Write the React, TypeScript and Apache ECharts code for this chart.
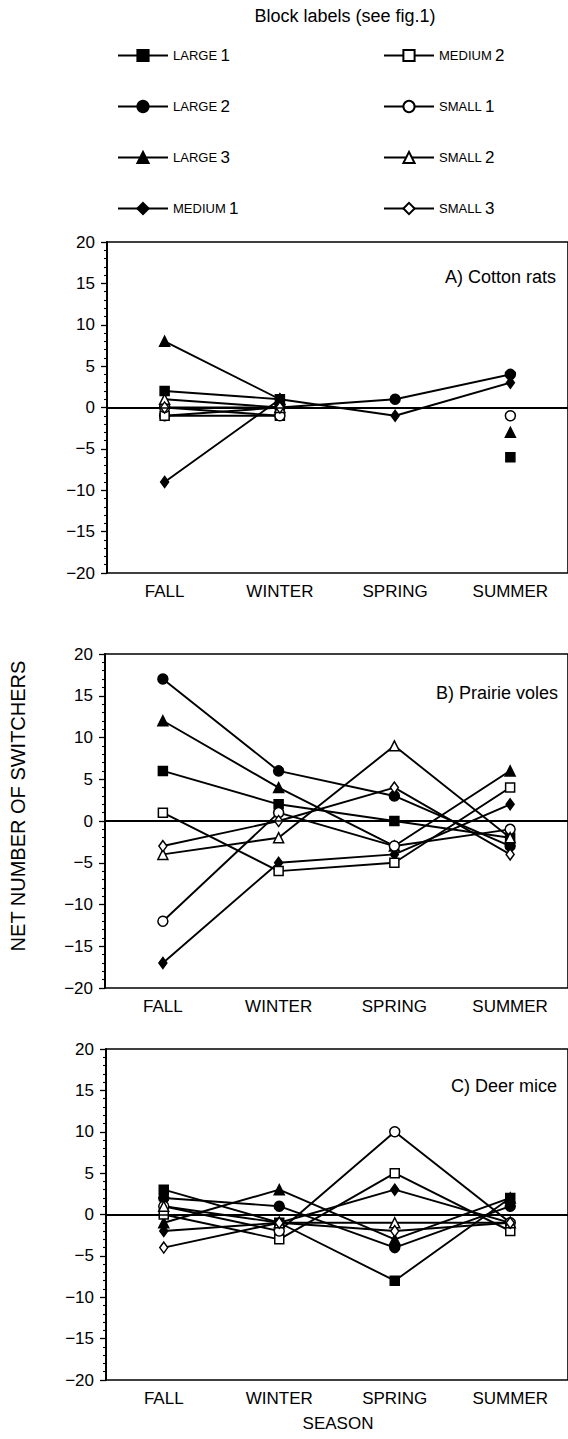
import React, { useEffect, useRef } from "react";
import * as echarts from "echarts";

const seasons = ["FALL", "WINTER", "SPRING", "SUMMER"];
const seriesNames = ["LARGE 1", "LARGE 2", "LARGE 3", "MEDIUM 1", "MEDIUM 2", "SMALL 1", "SMALL 2", "SMALL 3"];
const seriesSymbols = ["rect", "circle", "triangle", "diamond", "rect", "circle", "triangle", "diamond"];
const seriesFilled = [true, true, true, true, false, false, false, false];
const panelTitles = ["A) Cotton rats", "B) Prairie voles", "C) Deer mice"];

// rows follow seriesNames; columns follow seasons
const cottonRats: (number | null)[][] = [
  [2, 1, null, -6],
  [-1, 0, 1, 4],
  [8, 1, null, -3],
  [-9, 1, -1, 3],
  [-1, -1, null, null],
  [0, -1, null, -1],
  [1, 0, null, null],
  [0, 0, null, null],
];
const prairieVoles: (number | null)[][] = [
  [6, 2, 0, -2],
  [17, 6, 3, -3],
  [12, 4, -3, 6],
  [-17, -5, -4, 2],
  [1, -6, -5, 4],
  [-12, 1, -3, -1],
  [-4, -2, 9, -2],
  [-3, 0, 4, -4],
];
const deerMice: (number | null)[][] = [
  [3, -1, -8, 2],
  [2, 1, -4, 1],
  [-1, 3, -3, 2],
  [-2, -1, 3, -1],
  [0, -3, 5, -2],
  [1, -2, 10, -1],
  [1, -1, -1, -1],
  [-4, -1, -2, -1],
];
const panels = [cottonRats, prairieVoles, deerMice];

const FONT = "'Liberation Sans', Arial, Helvetica, sans-serif";

const grids = [
  { left: 107, top: 242, height: 331, right: -4 },
  { left: 105, top: 654, height: 334, right: -4 },
  { left: 106, top: 1049, height: 331, right: -4 },
];
const titlePos = [
  { x: 556, y: 277 },
  { x: 558, y: 693 },
  { x: 557, y: 1086 },
];

const symbolSize = (s: string) => (s === "rect" ? 9 : s === "diamond" ? [8, 11] : 10);

export default function App() {
  const ref = useRef<HTMLDivElement>(null);
  useEffect(() => {
    if (!ref.current) return;
    const chart = echarts.init(ref.current, undefined, { renderer: "svg" });

    const series: any[] = [];
    panels.forEach((panel, p) => {
      panel.forEach((row, i) => {
        series.push({
          type: "line",
          name: seriesNames[i],
          xAxisIndex: p,
          yAxisIndex: p,
          data: row,
          symbol: seriesSymbols[i],
          symbolSize: symbolSize(seriesSymbols[i]),
          showSymbol: true,
          connectNulls: false,
          lineStyle: { color: "#000", width: 1.9 },
          itemStyle: {
            color: seriesFilled[i] ? "#000" : "#fff",
            borderColor: "#000",
            borderWidth: 1.5,
          },
          z: 3,
          markLine:
            i === 0
              ? {
                  silent: true,
                  symbol: "none",
                  label: { show: false },
                  lineStyle: { color: "#000", width: 1.7, type: "solid" },
                  data: [{ yAxis: 0 }],
                }
              : undefined,
        });
      });
    });

    const legendBase = {
      orient: "vertical",
      itemWidth: 50,
      itemHeight: 14,
      itemGap: 34,
      selectedMode: false,
      formatter: (name: string) => {
        const [w, n] = name.split(" ");
        return `{a|${w}} {b|${n}}`;
      },
      textStyle: {
        rich: {
          a: { fontSize: 13, fontFamily: FONT, color: "#000", lineHeight: 16 },
          b: { fontSize: 17, fontFamily: FONT, color: "#000", lineHeight: 16 },
        },
      },
    };

    const option: any = {
      animation: false,
      backgroundColor: "#fff",
      textStyle: { fontFamily: FONT, color: "#000" },
      legend: [
        { ...legendBase, left: 112, top: 42, data: seriesNames.slice(0, 4) },
        { ...legendBase, left: 378, top: 42, data: seriesNames.slice(4) },
      ],
      grid: grids.map((g) => ({
        ...g,
        show: true,
        borderColor: "#000",
        borderWidth: 1.6,
        backgroundColor: "transparent",
      })),
      xAxis: grids.map((_, p) => ({
        type: "category",
        gridIndex: p,
        data: seasons,
        boundaryGap: true,
        axisLine: { show: true, lineStyle: { color: "#000", width: 2 } },
        axisTick: { show: false },
        axisLabel: { color: "#000", fontSize: 17, fontFamily: FONT, margin: 10 },
        splitLine: { show: false },
      })),
      yAxis: grids.map((_, p) => ({
        type: "value",
        gridIndex: p,
        min: -20,
        max: 20,
        interval: 5,
        axisLine: { show: true, onZero: false, lineStyle: { color: "#000", width: 2 } },
        axisTick: { show: true, length: 6, lineStyle: { color: "#000", width: 1.3 } },
        minorTick: { show: true, splitNumber: 5, length: 3, lineStyle: { color: "#000", width: 1.1 } },
        axisLabel: {
          color: "#000",
          fontSize: 17,
          fontFamily: FONT,
          margin: 12,
          formatter: (v: number) => (v < 0 ? "\u2212" + Math.abs(v) : String(v)),
        },
        splitLine: { show: false },
      })),
      graphic: [
        {
          type: "text",
          x: 345,
          y: 16,
          style: {
            text: "Block labels (see fig.1)",
            fontSize: 18,
            fontFamily: FONT,
            fill: "#000",
            textAlign: "center",
            textVerticalAlign: "middle",
          },
        },
        ...panelTitles.map((t, p) => ({
          type: "text",
          x: titlePos[p].x,
          y: titlePos[p].y,
          style: {
            text: t,
            fontSize: 18,
            fontFamily: FONT,
            fill: "#000",
            textAlign: "right",
            textVerticalAlign: "middle",
          },
        })),
        {
          type: "text",
          x: 18,
          y: 806,
          rotation: Math.PI / 2,
          style: {
            text: "NET NUMBER OF SWITCHERS",
            fontSize: 20,
            fontFamily: FONT,
            fill: "#000",
            textAlign: "center",
            textVerticalAlign: "middle",
          },
        },
        {
          type: "text",
          x: 338,
          y: 1423,
          style: {
            text: "SEASON",
            fontSize: 17,
            fontFamily: FONT,
            fill: "#000",
            textAlign: "center",
            textVerticalAlign: "middle",
          },
        },
      ],
      series,
    };

    chart.setOption(option);
    return () => chart.dispose();
  }, []);

  return (
    <div
      ref={ref}
      style={{ position: "absolute", left: 0, top: 0, width: 568, height: 1439, background: "#fff" }}
    />
  );
}
